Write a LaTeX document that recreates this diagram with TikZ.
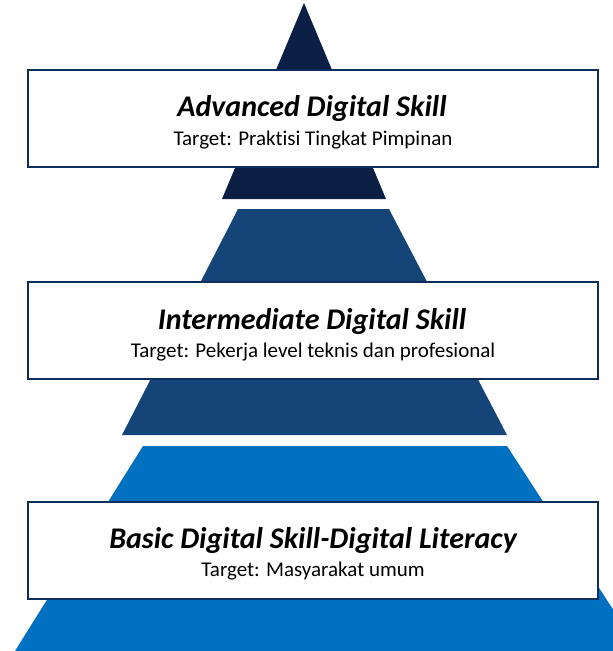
\documentclass[tikz,border=0pt]{standalone}
\usepackage{fontspec}
\setmainfont[Ligatures={NoCommon}]{Carlito}
\definecolor{tierA}{HTML}{0B1F44}
\definecolor{tierB}{HTML}{154478}
\definecolor{tierC}{HTML}{0070C0}
\definecolor{boxline}{HTML}{0F2D5C}
\tikzset{
  tierbox/.style={draw=boxline, line width=2pt, fill=white, minimum width=570pt, minimum height=97pt, inner sep=0pt},
  titletext/.style={anchor=base, font=\fontsize{30}{34}\selectfont\bfseries\itshape, inner sep=0pt},
  subtext/.style={anchor=base, font=\fontsize{21}{24}\selectfont, inner sep=0pt}
}
\begin{document}
\begin{tikzpicture}[x=1pt,y=-1pt]
\useasboundingbox (0,0) rectangle (613,651);
\clip (0,0) rectangle (613,651);
% tiers
\fill[tierA] (304,3) -- (386,199) -- (222,199) -- cycle;
\fill[tierB] (238,209) -- (389,209) -- (507,435) -- (122,435) -- cycle;
\fill[tierC] (143,446) -- (507,446) -- (640,651) -- (15,651) -- cycle;
% boxes
\node[tierbox] (b1) at (313,118) {};
\node[tierbox] (b2) at (313,330.5) {};
\node[tierbox] (b3) at (313,550) {};
% texts
\node[titletext] (t1) at (312,116) {Advanced Digital Skill};
\node[subtext] (s1) at (313,145) {Target: Praktisi Tingkat Pimpinan};
\node[titletext] (t2) at (312,329) {Intermediate Digital Skill};
\node[subtext] (s2) at (313,357) {Target: Pekerja level teknis dan profesional};
\node[titletext] (t3) at (313,548) {Basic Digital Skill-Digital Literacy};
\node[subtext] (s3) at (313,576) {Target: Masyarakat umum};
\end{tikzpicture}
\end{document}
